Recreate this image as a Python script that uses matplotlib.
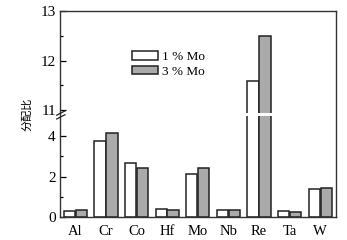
import numpy as np
import matplotlib.pyplot as plt
from matplotlib.patches import Rectangle

plt.rcParams['font.family'] = ['Liberation Serif', 'Noto Sans CJK SC']

elements = ['Al', 'Cr', 'Co', 'Hf', 'Mo', 'Nb', 'Re', 'Ta', 'W']
mo1 = [0.28, 3.75, 2.65, 0.39, 2.14, 0.35, 11.58, 0.31, 1.38]
mo3 = [0.33, 4.16, 2.43, 0.36, 2.42, 0.33, 12.5, 0.25, 1.45]
labels = ['1 % Mo', '3 % Mo']

# broken axis: 0-4.9 compressed normally, 10.9-13 stretched
yk = [-10, 0, 4.89, 10.92, 13, 30]
pk = [-202.5, 0, 99, 103, 206, 206 + 17 * 49.5]

def fwd(y):
    return np.interp(y, yk, pk)

def inv(p):
    return np.interp(p, pk, yk)

fig = plt.figure(figsize=(3.47, 2.4), dpi=100)
ax = fig.add_axes([0.1729, 0.0958, 0.7940, 0.8583])
ax.set_yscale('function', functions=(fwd, inv))

x = np.arange(len(elements))
w = 0.37
ax.bar(x - 0.195, mo1, w, color='white', edgecolor='#222222', linewidth=1.1, label=labels[0])
ax.bar(x + 0.195, mo3, w, color='#aaaaaa', edgecolor='#222222', linewidth=1.1, label=labels[1])

ax.set_xlim(-0.5, 8.5)
ax.set_ylim(0, 13)
ax.set_yticks([0, 2, 4, 11, 12, 13])
ax.set_yticks([1, 3, 11.5, 12.5], minor=True)
ax.set_xticks(x)
ax.set_xticklabels(elements)
ax.tick_params(axis='x', length=0, pad=6, labelsize=10.5)
ax.tick_params(axis='y', which='major', direction='in', length=4, width=0.9, pad=3, labelsize=11)
ax.tick_params(axis='y', which='minor', direction='in', length=2.5, width=0.9)
for s in ax.spines.values():
    s.set_linewidth(1.0)
    s.set_color('#333333')

# white gap across the bars at the break
ax.add_patch(Rectangle((0, 101.3 / 206), 1, 2.4 / 206, transform=ax.transAxes,
                       facecolor='white', edgecolor='none', zorder=2))
# break marks on the left spine
W, H = 275.5, 206
for y0 in (98, 101.8):
    ax.plot([-3.3 / W, 5 / W], [y0 / H, (y0 + 4.3) / H], transform=ax.transAxes,
            color='#222222', lw=0.9, clip_on=False, zorder=5)

ax.set_ylabel('分配比', fontsize=8, family=['Noto Sans CJK SC'], labelpad=6)

ax.legend(loc='upper left', bbox_to_anchor=(132 / 347, 1 - 51 / 240), bbox_transform=fig.transFigure,
          frameon=False, fontsize=9.5, handlelength=1.95, handleheight=0.65,
          handletextpad=0.3, labelspacing=0.2, borderpad=0, borderaxespad=0)

fig.savefig('out.png', dpi=100)
